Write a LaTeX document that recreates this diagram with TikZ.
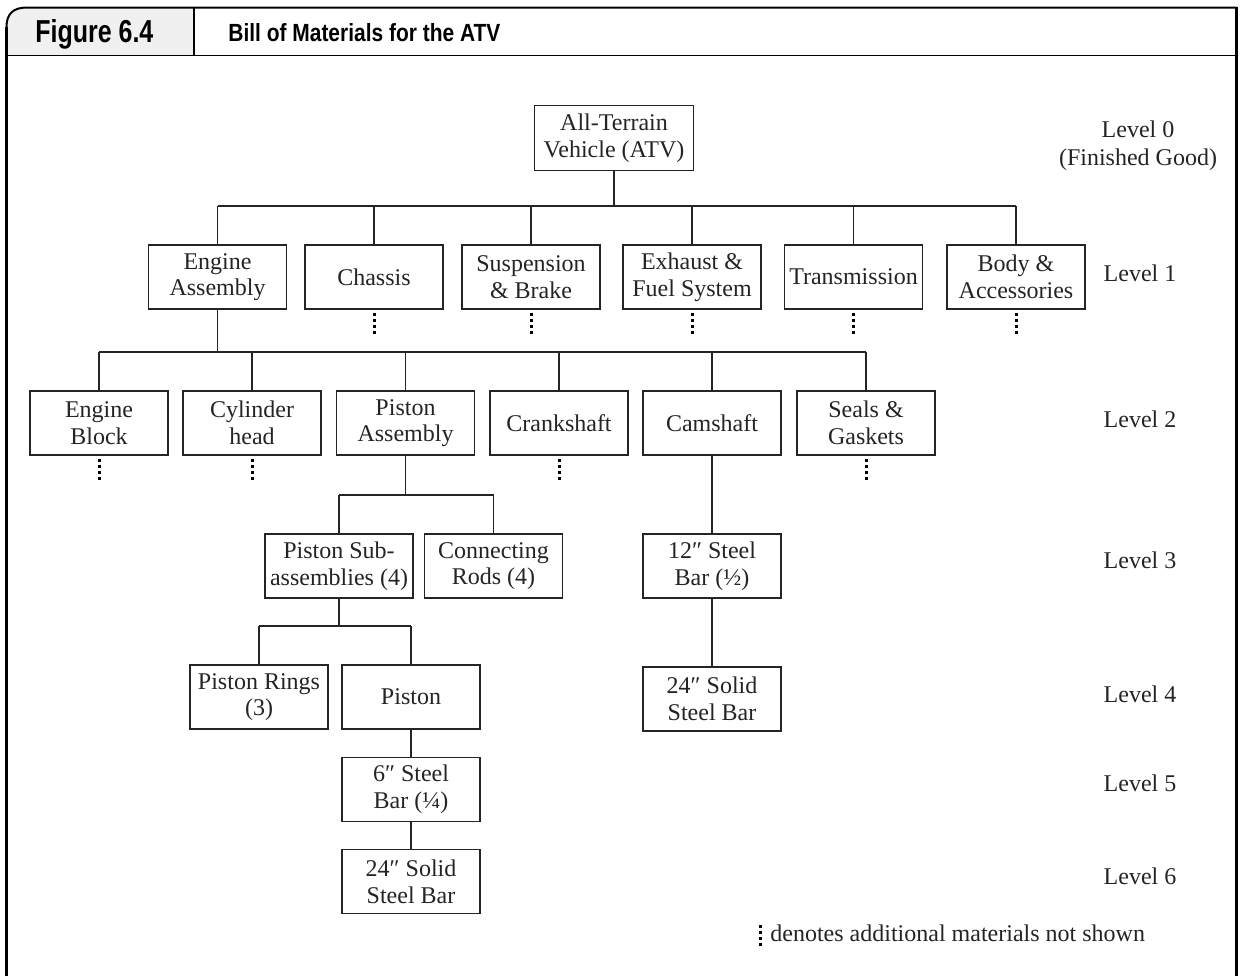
\documentclass[tikz,border=0pt]{standalone}
\usepackage{fontspec}
\usepackage{graphicx}
\setmainfont{Liberation Serif}
\newfontfamily\headfont{Liberation Sans}
\definecolor{ink}{rgb}{0.14,0.14,0.14}
\definecolor{tabgray}{rgb}{0.94,0.94,0.94}
\begin{document}
\begin{tikzpicture}[x=0.5pt,y=-0.5pt,
  every node/.style={inner sep=0pt},
  part/.style={draw=ink, line width=0.7pt, minimum width=69pt, minimum height=32pt,
    align=center, text=ink, font=\fontsize{12}{13.3}\selectfont},
  link/.style={draw=ink, line width=0.7pt},
  more/.style={draw=black, line width=1.5pt, dash pattern=on 1.4pt off 1.6pt},
  lvl/.style={align=center, text=ink, font=\fontsize{12}{14}\selectfont}]
\useasboundingbox (0,0) rectangle (1242,976);

% frame and heading tab
\fill[tabgray] (6.5,55.5) -- (6.5,27) .. controls (6.5,14) and (13,7.5) .. (27,7.5)
  -- (194,7.5) -- (194,55.5) -- cycle;
\draw[black, line width=1pt] (6.5,27) .. controls (6.5,14) and (13,7.5) .. (27,7.5) -- (1236.5,7.5);
\draw[black, line width=1.5pt] (6.5,976) -- (6.5,27);
\draw[black, line width=1.5pt] (1236.5,7) -- (1236.5,976);
\draw[black, line width=0.85pt] (6.5,55.5) -- (1236.5,55.5);
\draw[black, line width=0.6pt] (194,7.5) -- (194,55.5);
\node[anchor=base west] (fig) at (35,42)
  {\resizebox{59pt}{11.5pt}{\headfont\bfseries Figure 6.4}};
\node[anchor=base west] (title) at (228,41)
  {\resizebox{136pt}{9pt}{\headfont\bfseries Bill of Materials for the ATV}};

% level 0
\node[part, minimum width=79.5pt, minimum height=32.5pt] (atv) at (614,138) {All-Terrain\\Vehicle (ATV)};

% level 1
\node[part] (ea) at (217.5,277) {Engine\\Assembly};
\node[part] (ch) at (374,277) {Chassis};
\node[part] (sb) at (531,277) {Suspension\\\& Brake};
\node[part] (ef) at (692,277) {Exhaust \&\\Fuel System};
\node[part] (tr) at (853.5,277) {Transmission};
\node[part] (ba) at (1016,277) {Body \&\\Accessories};

% level 2
\node[part] (eb) at (99,423) {Engine\\Block};
\node[part] (cy) at (252,423) {Cylinder\\head};
\node[part] (pa) at (405.5,423) {Piston\\Assembly};
\node[part] (cr) at (559,423) {Crankshaft};
\node[part] (cm) at (712,423) {Camshaft};
\node[part] (sg) at (866,423) {Seals \&\\Gaskets};

% level 3
\node[part, minimum width=74pt] (ps) at (339,566) {Piston Sub-\\assemblies (4)};
\node[part] (rods) at (493.5,566) {Connecting\\Rods (4)};
\node[part] (bar12) at (712,566) {12″ Steel\\Bar (½)};

% level 4
\node[part] (rings) at (259,697) {Piston Rings\\(3)};
\node[part] (pis) at (411,697) {Piston};
\node[part] (solidA) at (712,699) {24″ Solid\\Steel Bar};

% levels 5 and 6
\node[part] (bar6) at (411,789.5) {6″ Steel\\Bar (¼)};
\node[part] (solidB) at (411,881.5) {24″ Solid\\Steel Bar};

% level labels
\node[lvl] (l0) at (1138,146) {Level 0\\(Finished Good)};
\node[lvl] (l1) at (1140,273) {Level 1};
\node[lvl] (l2) at (1140,419) {Level 2};
\node[lvl] (l3) at (1140,560) {Level 3};
\node[lvl] (l4) at (1140,694) {Level 4};
\node[lvl] (l5) at (1140,783) {Level 5};
\node[lvl] (l6) at (1140,876) {Level 6};

% bus heights
\coordinate (b1) at (0,206);
\coordinate (b2) at (0,352);
\coordinate (b3) at (0,495);
\coordinate (b4) at (0,626);

% connectors
\draw[link] (atv.south) -- (atv.south |- b1);
\draw[link] (ea.north |- b1) -- (ba.north |- b1);
\foreach \c in {ea,ch,sb,ef,tr,ba} \draw[link] (\c.north) -- (\c.north |- b1);

\draw[link] (ea.south) -- (ea.south |- b2);
\draw[link] (eb.north |- b2) -- (sg.north |- b2);
\foreach \c in {eb,cy,pa,cr,cm,sg} \draw[link] (\c.north) -- (\c.north |- b2);

\draw[link] (pa.south) -- (pa.south |- b3);
\draw[link] (ps.north |- b3) -- (rods.north |- b3);
\foreach \c in {ps,rods} \draw[link] (\c.north) -- (\c.north |- b3);

\draw[link] (ps.south) -- (ps.south |- b4);
\draw[link] (rings.north |- b4) -- (pis.north |- b4);
\foreach \c in {rings,pis} \draw[link] (\c.north) -- (\c.north |- b4);

\draw[link] (cm.south) -- (bar12.north);
\draw[link] (bar12.south) -- (solidA.north);
\draw[link] (pis.south) -- (bar6.north);
\draw[link] (bar6.south) -- (solidB.north);

% further materials not shown
\foreach \c in {ch,sb,ef,tr,ba,eb,cy,cr,sg}
  \draw[more] ([yshift=-1.5pt]\c.south) -- ++(0,21);

% key
\coordinate (keytop) at (760,925);
\draw[more] (keytop) -- ++(0,21);
\node[anchor=base west, text=ink, font=\fontsize{12}{14}\selectfont] (key) at (770,941)
  {denotes additional materials not shown};
\end{tikzpicture}
\end{document}
